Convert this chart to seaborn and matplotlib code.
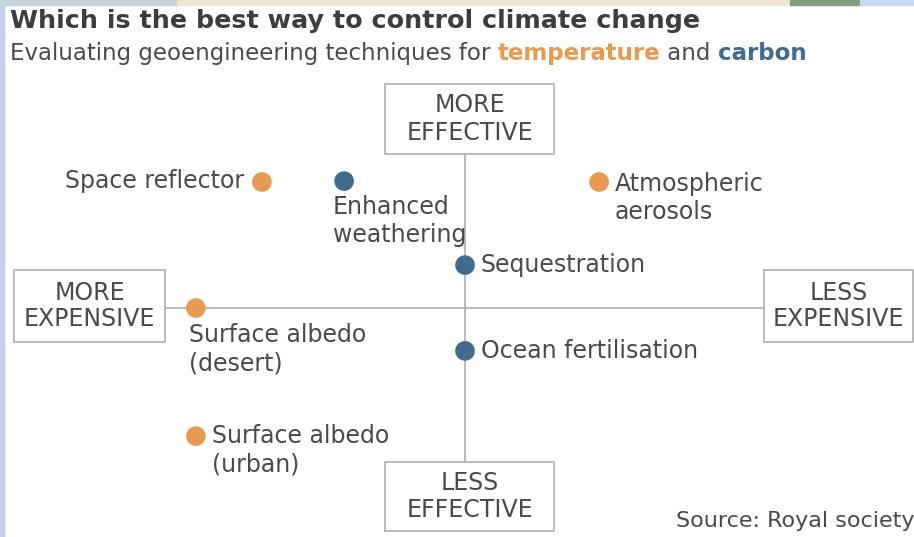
import matplotlib
matplotlib.use("Agg")
import matplotlib.pyplot as plt
import seaborn as sns
import pandas as pd
from matplotlib.patches import Rectangle

# ---- data ----
techniques = ["Space reflector", "Enhanced weathering", "Atmospheric aerosols",
              "Sequestration", "Surface albedo (desert)", "Ocean fertilisation",
              "Surface albedo (urban)"]
label_lines = [["Space reflector"], ["Enhanced", "weathering"], ["Atmospheric", "aerosols"],
               ["Sequestration"], ["Surface albedo", "(desert)"], ["Ocean fertilisation"],
               ["Surface albedo", "(urban)"]]
category = ["temperature", "carbon", "temperature", "carbon", "temperature",
            "carbon", "temperature"]
affordability = [-6.77, -4.03, 4.47, 0.0, -8.97, 0.0, -8.97]   # + = less expensive
effectiveness = [4.2, 4.23, 4.2, 1.43, 0.0, -1.43, -4.27]       # + = more effective

ORANGE = "#E89A52"
BLUE = "#416C90"
TEXT = "#4a4a4a"
GRID = "#b4b4b4"

df = pd.DataFrame({"technique": techniques, "category": category,
                   "x": affordability, "y": effectiveness})

sns.set_theme(style="white")
plt.rcParams['font.family'] = ['DejaVu Sans']

W, H = 914, 537
fig = plt.figure(figsize=(W / 100, H / 100), dpi=100)
ax = fig.add_axes([0, 0, 1, 1])
S = 30.0  # pixels per unit
cx, cy = 465, 308
ax.set_xlim(-cx / S, (W - cx) / S)
ax.set_ylim(-(H - cy) / S, cy / S)
ax.axis("off")

def px(x, y):
    return ((x - cx) / S, (cy - y) / S)

# decoration strips (page chrome)
fig.patches.append(Rectangle((0, 0), 4 / W, 1, transform=fig.transFigure, color="#c3d3ee", zorder=0))
for x0, x1, c in [(0, 177, "#c6d4e0"), (177, 790, "#efe6d3"), (790, 860, "#7f9f80"), (860, 914, "#c8d8f0")]:
    fig.patches.append(Rectangle((x0 / W, 1 - 5 / H), (x1 - x0) / W, 5 / H,
                                 transform=fig.transFigure, color=c, zorder=0))

# axes lines
ax.plot([px(165, 0)[0], px(764, 0)[0]], [0, 0], color=GRID, lw=1.3, zorder=1)
ax.plot([0, 0], [px(0, 154)[1], px(0, 462)[1]], color=GRID, lw=1.3, zorder=1)

# boxes
def box(x0, y0, x1, y1, lines):
    (bx0, by1), (bx1, by0) = px(x0, y0), px(x1, y1)
    ax.add_patch(Rectangle((bx0, by0), bx1 - bx0, by1 - by0, fill=True, facecolor="white",
                           edgecolor=GRID, lw=1.3, zorder=2))
    mid_x = (bx0 + bx1) / 2
    mid_y = (by0 + by1) / 2
    for i, t in enumerate(lines):
        ax.annotate(t, (mid_x, mid_y), xytext=(0, (13.5 - 27 * i) * 0.72),
                    textcoords="offset points", ha="center", va="center",
                    fontsize=17, color=TEXT, zorder=3)

box(385, 84, 554, 154, ["MORE", "EFFECTIVE"])
box(385, 462, 554, 531, ["LESS", "EFFECTIVE"])
box(14, 270, 165, 342, ["MORE", "EXPENSIVE"])
box(764, 270, 913, 342, ["LESS", "EXPENSIVE"])

sns.scatterplot(data=df, x="x", y="y", hue="category",
                palette={"temperature": ORANGE, "carbon": BLUE},
                s=200, edgecolor="none", legend=False, ax=ax, zorder=4)

# label placement in pixels relative to dot: (dx, first-line dy, ha)
offsets = {
    "Space reflector": (-18, -1, "right"),
    "Enhanced weathering": (-11, 26, "left"),
    "Atmospheric aerosols": (16, 2, "left"),
    "Sequestration": (16, 0, "left"),
    "Surface albedo (desert)": (-7, 27, "left"),
    "Ocean fertilisation": (16, 0, "left"),
    "Surface albedo (urban)": (16, 0, "left"),
}
LH = 28
for (_, r), lines in zip(df.iterrows(), label_lines):
    dx, dy, ha = offsets[r["technique"]]
    for i, t in enumerate(lines):
        ax.annotate(t, (r["x"], r["y"]), xytext=(dx * 0.72, -(dy + LH * i) * 0.72),
                    textcoords="offset points", ha=ha, va="center",
                    fontsize=17, color=TEXT, zorder=5)

# title and subtitle
fig.text(10 / W, 1 - 21 / H, "Which is the best way to control climate change",
         fontsize=18.3, fontweight="bold", color="#3d3d3d", va="center", ha="left",
         family=["DejaVu Sans Condensed", "DejaVu Sans"])
parts = [("Evaluating geoengineering techniques for ", TEXT, "normal"),
         ("temperature", ORANGE, "bold"), (" and ", TEXT, "normal"), ("carbon", BLUE, "bold")]
fig.canvas.draw()
r = fig.canvas.get_renderer()
xpos = 10
for t, c, w in parts:
    tt = fig.text(xpos / W, 1 - 53 / H, t, fontsize=16.5, color=c, fontweight=w,
                  va="center", ha="left")
    bb = tt.get_window_extent(renderer=r)
    xpos += bb.width

fig.text(915 / W, 1 - 521 / H, "Source: Royal society", fontsize=16, color=TEXT,
         ha="right", va="center")

fig.savefig("out.png", dpi=100, facecolor="white")
